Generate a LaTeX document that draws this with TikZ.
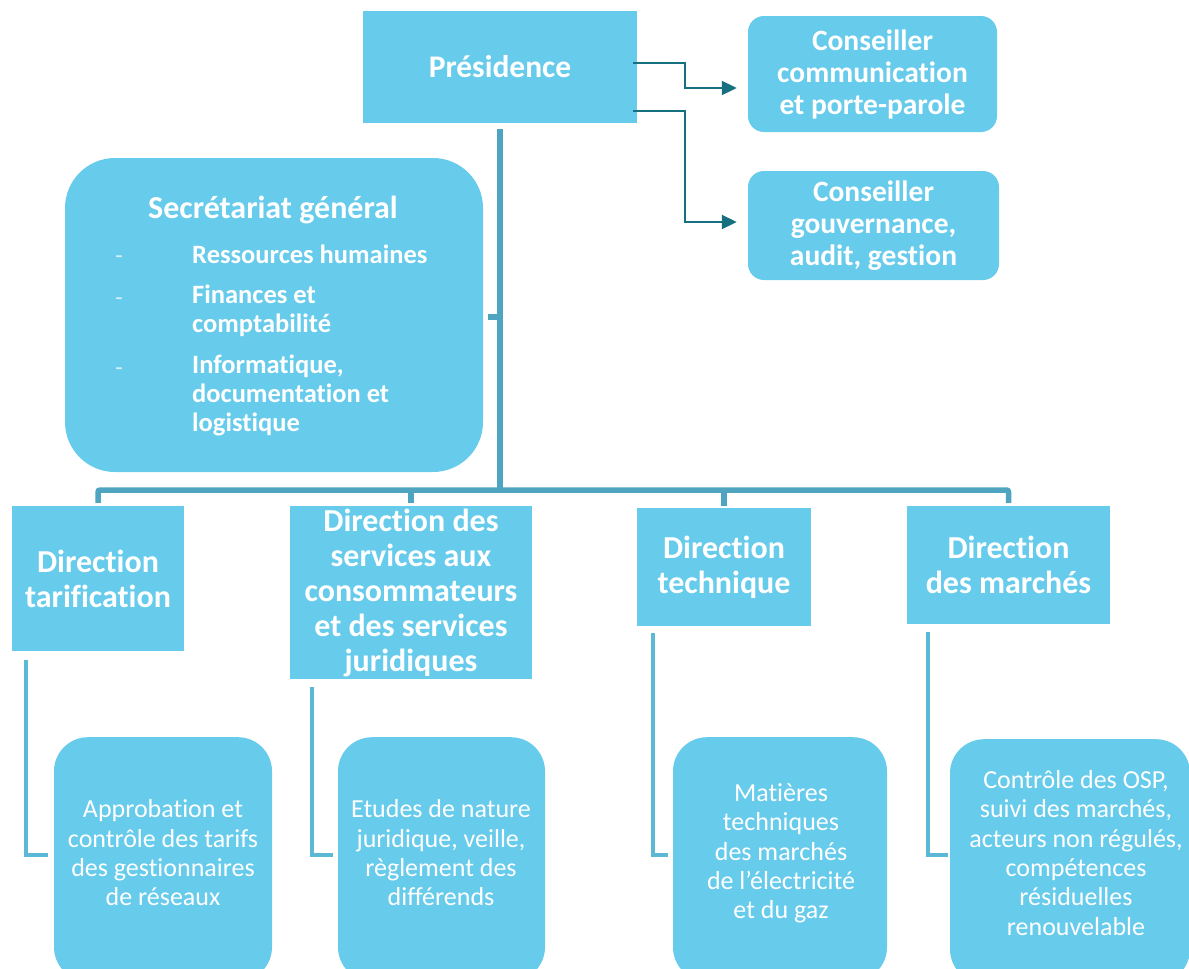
\documentclass[tikz,border=0pt]{standalone}
\usepackage{fontspec}
\setmainfont{Carlito}[Ligatures=NoCommon]
\usetikzlibrary{arrows.meta}
\definecolor{boxblue}{HTML}{67CBEB}
\definecolor{trunkc}{HTML}{4FA4BF}
\definecolor{elbowc}{HTML}{5BB9D6}
\definecolor{arrowc}{HTML}{17707F}
\definecolor{dashc}{HTML}{D8F2FA}
\begin{document}
\begin{tikzpicture}[x=1pt,y=-1pt,
  rectbox/.style={fill=boxblue,draw=none,text=white,align=center,inner sep=0pt},
  roundbox/.style={rectbox,rounded corners=#1},
  titlefont/.style={font=\bfseries\fontsize{32}{35}\selectfont},
  conffont/.style={font=\bfseries\fontsize{29.5}{32}\selectfont},
  subtext/.style={text=white,align=center,inner sep=0pt,font=\fontsize{26}{29.3}\selectfont},
  sgitem/.style={text=white,align=left,inner sep=0pt,font=\bfseries\fontsize{26.5}{29}\selectfont},
  sgdash/.style={text=dashc,inner sep=0pt,font=\fontsize{24}{24}\selectfont},
  trunkline/.style={draw=trunkc,line width=5.5pt},
  elbowline/.style={draw=elbowc,line width=4.5pt},
  arrline/.style={draw=arrowc,line width=2pt,-{Triangle[length=15pt,width=14pt]}}
]
\useasboundingbox (0,0) rectangle (1189,969);
\clip (0,0) rectangle (1189,969);

% top level
\node[rectbox,minimum width=274pt,minimum height=112pt,font=\bfseries\fontsize{31.5}{36}\selectfont] (P) at (500,67) {Présidence};
\node[roundbox=16pt,conffont,minimum width=249pt,minimum height=116pt] (CC) at (872.5,74) {Conseiller\\communication\\et porte-parole};
\node[roundbox=16pt,conffont,minimum width=251pt,minimum height=109pt] (CG) at (873.5,225.5) {Conseiller\\gouvernance,\\audit, gestion};

% secretariat
\node[roundbox=50pt,minimum width=418pt,minimum height=314pt] (SG) at (274,315) {};
\node[text=white,inner sep=0pt,font=\bfseries\fontsize{32}{36}\selectfont] (SGt) at (273,210) {Secrétariat général};
\node[sgdash] (d1) at (119,260) {-};
\node[sgdash] (d2) at (119,302) {-};
\node[sgdash] (d3) at (119,372) {-};
\node[sgitem,anchor=west] (i1) at (192,254) {Ressources humaines};
\node[sgitem,anchor=west] (i2) at (192,311) {Finances et\\comptabilité};
\node[sgitem,anchor=west] (i3) at (192,395.5) {Informatique,\\documentation et\\logistique};

% directions
\node[rectbox,titlefont,minimum width=172pt,minimum height=145pt] (DT) at (98,578.5) {Direction\\tarification};
\node[rectbox,titlefont,minimum width=242pt,minimum height=173pt] (DS) at (411,592.5) {Direction des\\services aux\\consommateurs\\et des services\\juridiques};
\node[rectbox,titlefont,minimum width=174pt,minimum height=118pt] (DTe) at (724,567) {Direction\\technique};
\node[rectbox,titlefont,minimum width=203pt,minimum height=118pt] (DM) at (1008.5,565) {Direction\\des marchés};

% sub boxes
\node[roundbox=34pt,minimum width=218pt,minimum height=244pt,anchor=north] (ST) at (163,737) {};
\node[roundbox=34pt,minimum width=207pt,minimum height=244pt,anchor=north] (SS) at (441.5,737) {};
\node[roundbox=34pt,minimum width=214pt,minimum height=244pt,anchor=north] (STe) at (780,737) {};
\node[roundbox=34pt,minimum width=240pt,minimum height=244pt,anchor=north] (SM) at (1070,739) {};
\node[subtext] (STt) at (163,853) {Approbation et\\contrôle des tarifs\\des gestionnaires\\de réseaux};
\node[subtext] (SSt) at (441,853) {Etudes de nature\\juridique, veille,\\règlement des\\différends};
\node[subtext] (STet) at (781,853.5) {Matières\\techniques\\des marchés\\de l’électricité\\et du gaz};
\node[subtext] (SMt) at (1076,853) {Contrôle des OSP,\\suivi des marchés,\\acteurs non régulés,\\compétences\\résiduelles\\renouvelable};

% trunk and bus
\coordinate (tTop) at (500,129);
\coordinate (bus) at (500,490);
\coordinate (sgStub) at (488,317);
\draw[trunkline] (tTop) -- (bus);
\draw[trunkline] (sgStub) -- (sgStub -| tTop);
\draw[trunkline,rounded corners=2pt] ([yshift=3pt]DT.north) |- (bus) -| ([yshift=3pt]DM.north);
\draw[trunkline] (DS.north |- bus) -- ([yshift=3pt]DS.north);
\draw[trunkline] (DTe.north |- bus) -- ([yshift=2pt]DTe.north);

% elbows
\coordinate (eT) at (26,660);
\coordinate (eS) at (312,687);
\coordinate (eTe) at (653,633);
\coordinate (eM) at (928,632);
\coordinate (eTend) at (48,855);
\coordinate (eSend) at (333,855);
\coordinate (eTeend) at (668,855);
\coordinate (eMend) at (948,855);
\draw[elbowline] (eT) |- (eTend);
\draw[elbowline] (eS) |- (eSend);
\draw[elbowline] (eTe) |- (eTeend);
\draw[elbowline] (eM) |- (eMend);

% arrows to advisers
\coordinate (a1) at (633,63);
\coordinate (a2) at (633,111);
\coordinate (k1) at (685,88);
\coordinate (k2) at (685,222);
\draw[arrline] (a1) -| (k1) -- ([xshift=-11pt]CC.west |- k1);
\draw[arrline] (a2) -| (k2) -- ([xshift=-11pt]CG.west |- k2);
\end{tikzpicture}
\end{document}
